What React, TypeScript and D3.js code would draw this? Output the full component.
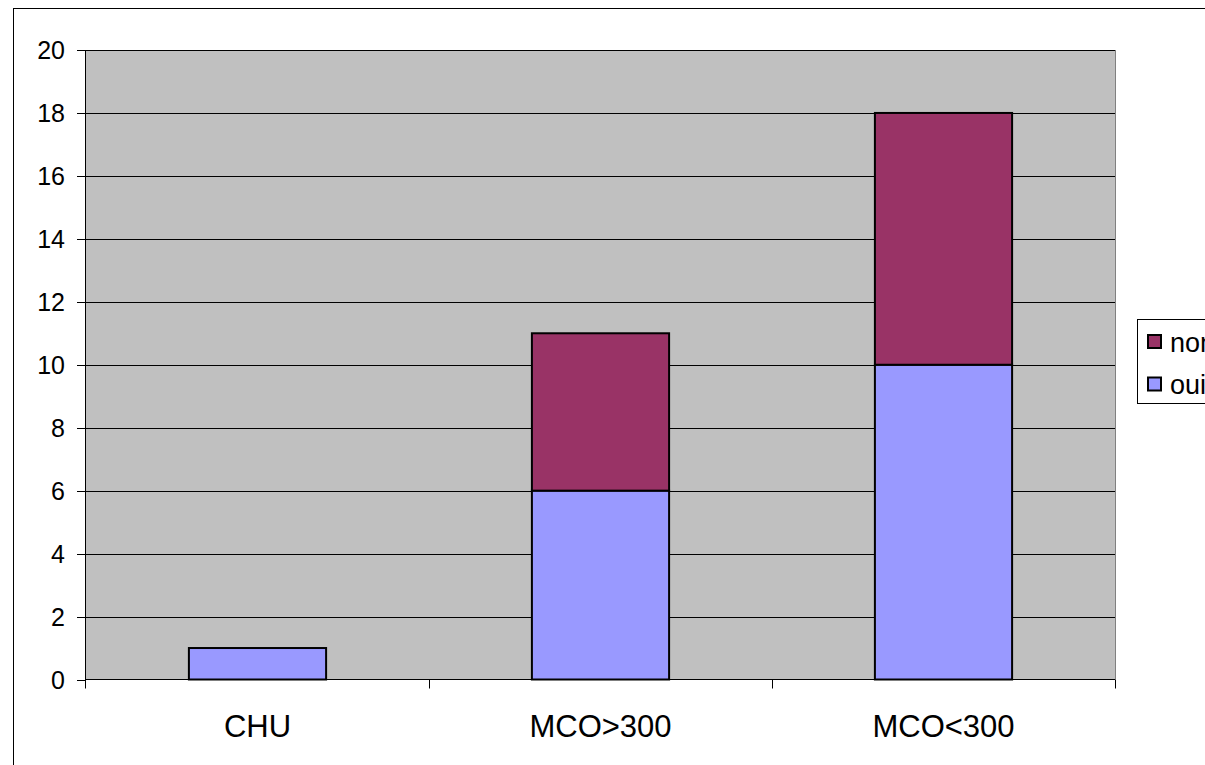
import React from "react";
import * as d3 from "d3";

const categories = ["CHU", "MCO>300", "MCO<300"];
const oui = [1, 6, 10];
const non = [0, 5, 8];
const seriesNames = ["oui", "non"];
const seriesColors = ["#9999FF", "#993366"];
const yTicks = [0, 2, 4, 6, 8, 10, 12, 14, 16, 18, 20];

export default function App() {
  const W = 1205, H = 765;
  const left = 86, right = 1115, top = 50, bottom = 679.5;
  const x = d3.scaleBand<string>().domain(categories).range([left, right]).paddingInner(0.6).paddingOuter(0.3);
  const band = d3.scaleBand<string>().domain(categories).range([left, right]);
  const y = d3.scaleLinear().domain([0, 20]).range([bottom, top]);
  const rows = categories.map((c, i) => ({ cat: c, oui: oui[i], non: non[i] }));
  const stacked = d3.stack<any>().keys(seriesNames)(rows);
  const font = "'Liberation Sans', Arial, sans-serif";
  return (
    <svg width={W} height={H} style={{ position: "absolute", left: 0, top: 0 }}>
      <rect x={0} y={0} width={W} height={H} fill="#fff" />
      <rect x={13.5} y={8.5} width={1300} height={900} fill="none" stroke="#000" strokeWidth={1} />
      <rect x={left} y={top} width={right - left} height={bottom - top} fill="#C0C0C0" />
      {yTicks.map((t) => (
        <g key={t}>
          {t > 0 && <line x1={left} x2={right} y1={Math.round(y(t)) + 0.5} y2={Math.round(y(t)) + 0.5} stroke="#000" strokeWidth={1} />}
          <line x1={77} x2={left} y1={Math.round(y(t)) + 0.5} y2={Math.round(y(t)) + 0.5} stroke="#000" />
          <text x={65} y={y(t)} dy="0.36em" textAnchor="end" fontFamily={font} fontSize={25}>{t}</text>
        </g>
      ))}
      <line x1={right + 0.5} x2={right + 0.5} y1={top} y2={bottom} stroke="#808080" />
      {stacked.map((s, si) =>
        s.map((d, i) =>
          d[1] - d[0] > 0 ? (
            <rect key={si + "-" + i} x={x(categories[i])!} y={y(d[1])} width={x.bandwidth()} height={y(d[0]) - y(d[1])}
              fill={seriesColors[si]} stroke="#000" strokeWidth={2} />
          ) : null
        )
      )}
      <line x1={left - 0.5} x2={left - 0.5} y1={top} y2={bottom + 9} stroke="#000" />
      <line x1={left} x2={right} y1={bottom} y2={bottom} stroke="#000" />
      {[...categories.map((c) => band(c)!), right].slice(1).map((bx, i) => (
        <line key={i} x1={Math.round(bx) + 0.5} x2={Math.round(bx) + 0.5} y1={bottom} y2={bottom + 9} stroke="#000" />
      ))}
      {categories.map((c) => (
        <text key={c} x={band(c)! + band.bandwidth() / 2} y={737} textAnchor="middle" fontFamily={font} fontSize={31}>{c}</text>
      ))}
      <rect x={1137.5} y={319.5} width={100} height={84} fill="#fff" stroke="#000" />
      {["non", "oui"].map((n, i) => (
        <g key={n}>
          <rect x={1148} y={335 + i * 42.5} width={13} height={13} fill={seriesColors[seriesNames.indexOf(n)]} stroke="#000" strokeWidth={2} />
          <text x={1170} y={342 + i * 42.5} dy="0.36em" fontFamily={font} fontSize={27}>{n}</text>
        </g>
      ))}
    </svg>
  );
}
